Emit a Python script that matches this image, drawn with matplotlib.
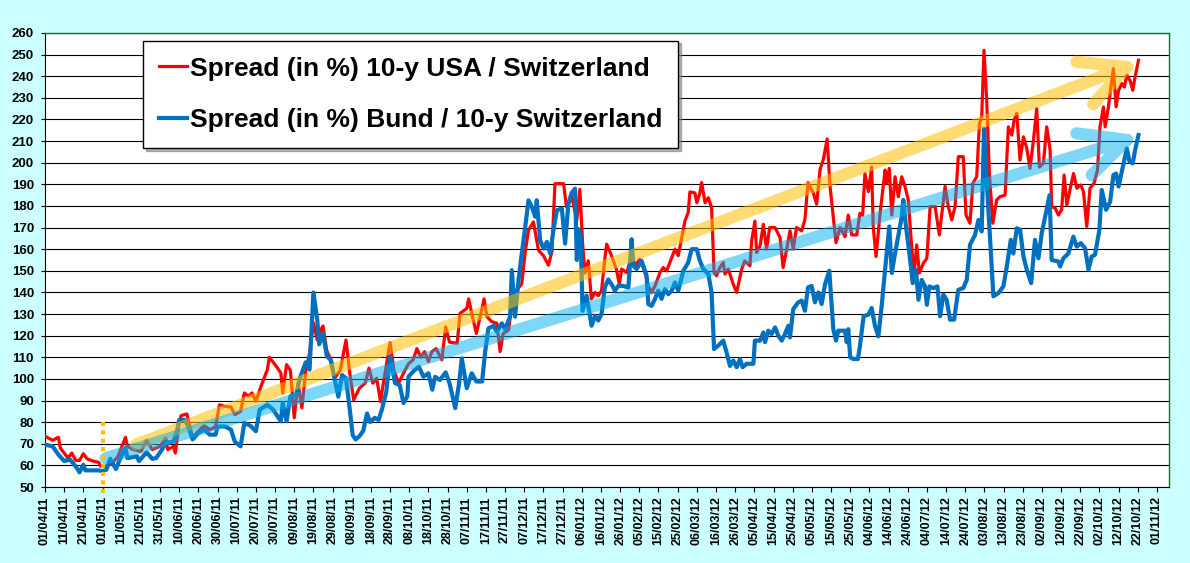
"""Spread of 10-y USA and Bund yields over 10-y Switzerland, Apr 2011 - Oct 2012."""

import numpy as np
import pandas as pd
import matplotlib

matplotlib.use("Agg")
import matplotlib.pyplot as plt

START = pd.Timestamp("2011-04-01")

# Days since 01/04/11, spread values
usa_days = [
    0, 4, 7, 8, 12, 14, 16, 18, 20, 22, 25, 28, 29, 32, 35, 38, 42, 43, 46, 50,
    53, 56, 60, 63, 64, 67, 68, 70, 71, 74, 77, 79, 83, 86, 89, 91, 94, 97, 99, 102,
    104, 106, 108, 110, 113, 116, 117, 120, 123, 124, 126, 128, 130, 132, 134, 136, 138, 140, 142, 144,
    145, 147, 149.6, 151, 154, 157, 159, 161, 164, 167, 169, 171, 173, 175, 176.5, 180, 182, 184.4, 187, 189.6,
    192, 194, 196, 198, 200, 201.8, 204, 207, 209, 211, 215, 216.5, 220, 221, 222.6, 225, 227, 229, 230.5, 233,
    235.7, 237.4, 239, 241.8, 244.4, 246, 248.7, 250.5, 252.2, 254.8, 257.4, 260, 262.6, 264.4, 266, 270.5, 272, 274.8, 277.4, 279,
    280.4, 281.6, 283.4, 285, 286.9, 288.6, 290.3, 292, 293, 295.5, 298, 299.6, 300.8, 303.4, 305, 306.5, 307.7, 310.3, 313, 314.7,
    316.4, 318.2, 320.8, 322.5, 324.3, 326.9, 328.6, 330.3, 332, 333.8, 335.5, 336.4, 339, 340, 341.6, 342.5, 344.3, 346, 347.7, 349,
    350.3, 352, 353.8, 354.7, 356.4, 359, 360.8, 363.4, 365, 367.7, 368.6, 370.3, 371.2, 373, 374.7, 376.4, 378, 380.8, 383.4, 385,
    386.9, 388.6, 390.3, 392, 394.7, 396.4, 398, 400.8, 402.5, 404.3, 406, 408, 409.5, 411.2, 412.6, 414.7, 416.4, 417.3, 419, 420.8,
    423.4, 425.1, 426.5, 427.7, 429.5, 431.2, 432, 433.5, 435.6, 438.2, 439, 440.4, 441.7, 443.4, 445.1, 446.9, 448.6, 450.3, 452, 453.3,
    454.7, 456.1, 458.2, 460, 461.7, 464.3, 466.5, 469.5, 471.2, 473, 474.7, 476.4, 479, 480.4, 482.5, 484, 486, 487.4, 488.6, 489.8,
    491.2, 492.6, 494.4, 496.4, 498.2, 500.8, 502.5, 504.3, 505.5, 506.9, 508.6, 510.4, 512.1, 513.8, 515.6, 517.3, 518.7, 520.8, 522.5, 524.3,
    525.1, 526.9, 528.6, 530.3, 531.6, 533, 535, 536.5, 538.2, 540.3, 541.7, 543.4, 545.1, 547.2, 549, 550.3, 552.1, 553, 554.7, 556,
    557.3, 558.7, 560, 561.7, 563, 564.3, 566, 567.4, 568.6, 570.4,
]
usa_spread = [
    73.5, 71.6, 73, 68, 63.4, 65.7, 62.3, 62.3, 65.4, 63, 62, 61.4, 59.6, 59.6, 61, 64, 73, 68.8, 67.3, 66.5,
    71.6, 67.3, 68.8, 72.7, 67.3, 68.8, 65.7, 79.6, 83, 83.8, 72.7, 75, 78.4, 76.5, 78, 88, 87.3, 87, 83.5, 85,
    93.5, 92, 93.5, 89.7, 97.4, 104.3, 110, 106.6, 102.8, 93.5, 106.6, 104, 82, 98, 86.6, 103.5, 112, 126, 118, 123,
    124.5, 113, 108, 100.3, 104, 118, 102.6, 90.3, 95.7, 98, 105, 98, 100.3, 89.5, 98, 116.8, 104, 98, 102.6, 107,
    108.8, 114, 110, 112.6, 108, 112.6, 114, 108.8, 124, 117, 116.5, 130.3, 132.6, 137, 130.3, 121, 128.8, 137, 128.8, 126.5,
    125.7, 112.6, 121, 122.6, 141, 141, 144, 158.8, 168.8, 172.6, 159.5, 157, 152.6, 158.8, 190.3, 190.3, 179.5, 184, 173.4, 187.7,
    163, 149, 154.6, 137, 140, 138.5, 140.8, 155.4, 162.3, 157, 150.8, 143.8, 150.8, 149.2, 153.8, 156, 152.3, 155.4, 149.2, 143,
    140, 143, 149.2, 151.5, 150, 156, 160, 157, 164.6, 173, 177, 186.5, 186, 181.5, 186, 190.8, 181.5, 183.8, 179.2, 149.2,
    147.7, 151.5, 153.8, 148.5, 150.8, 143.8, 140, 150.8, 154.6, 152.3, 163.8, 173, 158.5, 161.5, 171.5, 160, 170, 170, 165.4, 151.5,
    160, 168.5, 160, 170, 168.5, 173.8, 190.8, 186, 180.8, 197, 201.5, 211, 189, 174.6, 163, 170, 167.4, 165.8, 175.8, 166.6,
    166.6, 176.6, 175.8, 195, 186.6, 198, 170.5, 156.6, 176.6, 196.6, 190.5, 197.4, 175.8, 193.5, 184.3, 193.5, 189, 182.8, 162, 148.3,
    162, 149, 153.5, 155.8, 179.7, 179.7, 166.6, 189, 179.7, 173.5, 179.7, 202.8, 202.8, 175.8, 172, 190.5, 193.5, 218, 221, 252,
    229, 195, 172, 182.8, 184.3, 185, 216.6, 212.8, 219.7, 222.8, 201.2, 212, 206.6, 197.4, 210.5, 225, 198, 199.7, 216.6, 205.8,
    179.7, 179, 175.8, 178.2, 194.3, 180.5, 189, 195, 188.2, 189.7, 186.6, 170.5, 188.2, 190.5, 196.6, 216.6, 225.8, 216.6, 225.8, 235,
    243.5, 225.8, 233.5, 236.6, 235, 240.5, 238, 233.5, 239.7, 247.4,
]

bund_days = [
    0, 4, 7, 10, 13, 16, 18, 20, 21, 28, 30, 32, 34, 37, 39, 42, 43, 48, 49, 53,
    56, 58, 61, 63, 67, 69, 70, 73, 75, 77, 80, 83, 86, 89, 90, 94, 97, 99, 102, 104,
    107, 110, 112, 116, 119, 123, 124, 126, 128, 131, 133, 136, 138, 140, 142, 143, 145, 147, 149, 151,
    153, 155, 157, 159, 160.5, 162, 164, 166, 168, 169.6, 172, 174, 175.7, 178, 180, 182.6, 185, 187, 189, 189.6,
    192, 195, 197.4, 200, 202, 203.5, 206, 209, 211, 214, 216, 217.4, 220, 222.6, 225, 228, 229.6, 231.3, 234, 235.7,
    238.3, 240, 242.6, 243.5, 245.2, 247, 248.7, 250.5, 252.2, 254, 255.7, 256.5, 258.3, 260, 261.8, 263.5, 265.2, 267, 269.6, 271.3,
    273, 274.7, 276.5, 277.4, 278.2, 279.4, 280.4, 282.5, 285.1, 286.9, 288.6, 290.3, 292, 293.8, 295.5, 297.3, 299, 301.6, 304.3, 306,
    306.9, 308.6, 311.2, 313.8, 314.7, 316.4, 318.2, 319.9, 321.6, 323.4, 325.1, 326.9, 328.6, 330.3, 333, 335.5, 337.3, 340, 341.6, 343.4,
    346, 347.7, 349, 351.2, 353.8, 355.5, 357.3, 359, 360.8, 362.5, 363.9, 366, 369.5, 370.3, 373, 374.7, 375.6, 377.3, 379, 380.8,
    382.5, 384.3, 386, 387.7, 388.6, 390.3, 392.9, 394.7, 396.4, 398, 399.9, 401.6, 403.4, 405.1, 406.9, 409.1, 411.2, 412.6, 413.8, 417.3,
    418.2, 419, 420, 421.6, 424, 425, 427, 429.5, 431.2, 433, 434.7, 436.4, 438.2, 440.4, 441.7, 443.4, 445.7, 446.9, 447.7, 449.1,
    450.9, 452.6, 454.3, 455.6, 457.3, 459, 460, 461.3, 463.4, 465.5, 466.9, 468.6, 470.3, 472.1, 474.2, 476.4, 479, 480.8, 482.5, 485.1,
    486.9, 488.6, 489.8, 491.2, 493, 494.7, 497.3, 499.9, 501.7, 503.8, 505.1, 506.9, 508.6, 510.4, 512.1, 514.4, 516.4, 518.2, 519.9, 521.7,
    524, 525.1, 528.6, 529.5, 531.2, 533.8, 536.4, 538.2, 540.3, 542.5, 544.3, 546, 547.7, 550, 551.2, 553.5, 555.6, 557.3, 558.7, 560,
    562.2, 564.3, 565.7, 567.4, 568.6, 570.4,
]
bund_spread = [
    69.6, 68.8, 65, 62, 62.7, 59.6, 56.8, 60.3, 57.7, 57.7, 57.3, 58, 63, 58.3, 62.7, 68, 63.4, 64.2, 62, 66,
    63, 63.4, 67.3, 70.4, 71, 76.5, 81, 81, 77.3, 72, 75, 76.5, 74.2, 74.2, 78, 78, 76.5, 71, 68.8, 79.6,
    78.4, 75.8, 85.8, 88, 85.8, 80.4, 88.9, 80.4, 92, 92.7, 100.5, 107.7, 104.3, 140, 127.5, 116, 121, 110.5, 108.8, 100.3,
    91.8, 101.8, 100.3, 85.7, 74, 72, 73.5, 76, 84, 80, 82, 81, 85.7, 94, 110.3, 98, 97.2, 88.8, 92, 101,
    103.4, 105.7, 101, 102.6, 95, 101, 99.5, 103, 98, 86.5, 98, 109.5, 95.7, 102.6, 98.8, 98.8, 112.6, 123.4, 124.5, 121.8,
    125.7, 123, 128.8, 150.3, 128.8, 145.7, 158, 170.3, 182.6, 179.5, 175, 182.6, 164, 160.3, 163.4, 158, 168.8, 178, 178.8, 162.6,
    181, 186, 188, 155, 169.2, 166, 131.5, 138.5, 124.6, 129.2, 127, 130, 142.3, 146, 143.8, 140.8, 143, 143, 142.3, 164.6,
    152.3, 150.8, 154.6, 147.7, 134.6, 133.8, 137, 140.8, 137, 141.5, 139.2, 140.8, 144.6, 140.8, 150, 153.8, 160, 160, 154.6, 150.8,
    148.5, 140, 113.8, 115.4, 117.7, 112.3, 106, 108.5, 105.4, 109.2, 105.4, 107, 107, 117.7, 117.7, 121.5, 117, 122.3, 120.8, 123.8,
    120, 117.7, 120.8, 124.6, 119.2, 132.3, 135.4, 136.2, 131.5, 142.3, 143, 135.4, 140, 134.6, 143.8, 150, 123, 117.7, 122.3, 122.3,
    117, 123, 110, 109.2, 109.2, 114.6, 129, 129.7, 132.8, 124.3, 119.7, 133.5, 150.5, 170.5, 149, 158, 169, 175, 182.8, 170.5,
    158, 144.3, 150.5, 136.6, 145.8, 142.8, 134.3, 142.8, 142, 142.8, 129, 139, 136.6, 127.4, 127.4, 141.2, 142, 145.8, 162, 166.6,
    173.5, 168.2, 215.8, 192, 164.3, 138.2, 139.7, 142.8, 152, 164.3, 158, 169.7, 169, 156.6, 150.5, 144.3, 164.3, 155.8, 167.4, 175,
    185, 155, 154.3, 152, 155.8, 158, 165.8, 161.2, 162.8, 160.5, 150.5, 156.6, 157.4, 169, 187.4, 178.2, 182, 194.3, 195, 189,
    198, 206.6, 200.5, 199.7, 205.8, 212.8,
]

# Trend arrows: shaft start, tip, and the two barb ends (days, value)
usa_arrow_days = [47.5, 564.4, 538.0, np.nan, 564.4, 546.7]
usa_arrow_vals = [69.6, 244.3, 246.7, np.nan, 244.3, 227.0]
bund_arrow_days = [31.7, 564.4, 538.0, np.nan, 564.4, 546.0]
bund_arrow_vals = [63.3, 210.5, 213.6, np.nan, 210.5, 194.3]

# Start of the period (01/05/11)
marker_day = 30

tick_days = list(range(0, 581, 10))
tick_labels = [(START + pd.Timedelta(days=d)).strftime("%d/%m/%y") for d in tick_days]

plt.rcParams["font.family"] = ["Liberation Sans", "DejaVu Sans"]
plt.rcParams["font.weight"] = "bold"

fig = plt.figure(figsize=(11.9, 5.63), dpi=100)
fig.patch.set_facecolor("#CCFFFF")
ax = fig.add_axes([45 / 1190, 76 / 563, 1124 / 1190, 454 / 563])
ax.set_facecolor("white")

ax.plot(usa_days, usa_spread, color="#FF0000", lw=2.3, zorder=3,
        label="Spread (in %) 10-y USA / Switzerland")
ax.plot(bund_days, bund_spread, color="#0070C0", lw=3.0, zorder=4,
        label="Spread (in %) Bund / 10-y Switzerland")

ax.plot(usa_arrow_days, usa_arrow_vals, color="#FFC000", alpha=0.55, lw=8.8,
        solid_capstyle="round", solid_joinstyle="round", zorder=5)
ax.plot(bund_arrow_days, bund_arrow_vals, color="#00B0F0", alpha=0.5, lw=8.8,
        solid_capstyle="round", solid_joinstyle="round", zorder=5)

ax.plot([marker_day, marker_day], [80, 45.5], color="#FFC000", lw=3,
        linestyle=(0, (1, 1)), clip_on=False, zorder=6)

ax.set_xlim(0, 586.3)
ax.set_ylim(50, 260)
ax.set_yticks(range(50, 261, 10))
ax.set_xticks(tick_days)
ax.set_xticklabels(tick_labels, rotation=90, fontsize=9, fontweight="bold")
for lab in ax.get_yticklabels():
    lab.set_fontsize(9.5)
    lab.set_fontweight("bold")

ax.grid(axis="y", color="black", lw=0.8, zorder=1)
ax.set_axisbelow(True)
ax.tick_params(axis="x", direction="out", length=3.6, width=0.8, pad=3)
ax.tick_params(axis="y", direction="out", length=3, width=0.8, pad=5)

for side in ("top", "right"):
    ax.spines[side].set_color("#008000")
    ax.spines[side].set_linewidth(1.0)
for side in ("left", "bottom"):
    ax.spines[side].set_color("black")
    ax.spines[side].set_linewidth(0.8)

leg = ax.legend(loc="upper left", bbox_to_anchor=(0.0872, 0.983), borderaxespad=0,
                frameon=True, fancybox=False, shadow={"color": "0.5", "alpha": 0.6},
                edgecolor="black", framealpha=1, borderpad=0.6, labelspacing=1.05,
                handlelength=1.06, handletextpad=0.12, prop={"weight": "bold", "size": 19})
leg.get_frame().set_linewidth(1.0)
leg.set_zorder(10)

fig.savefig("out.png", dpi=100, facecolor=fig.get_facecolor())
